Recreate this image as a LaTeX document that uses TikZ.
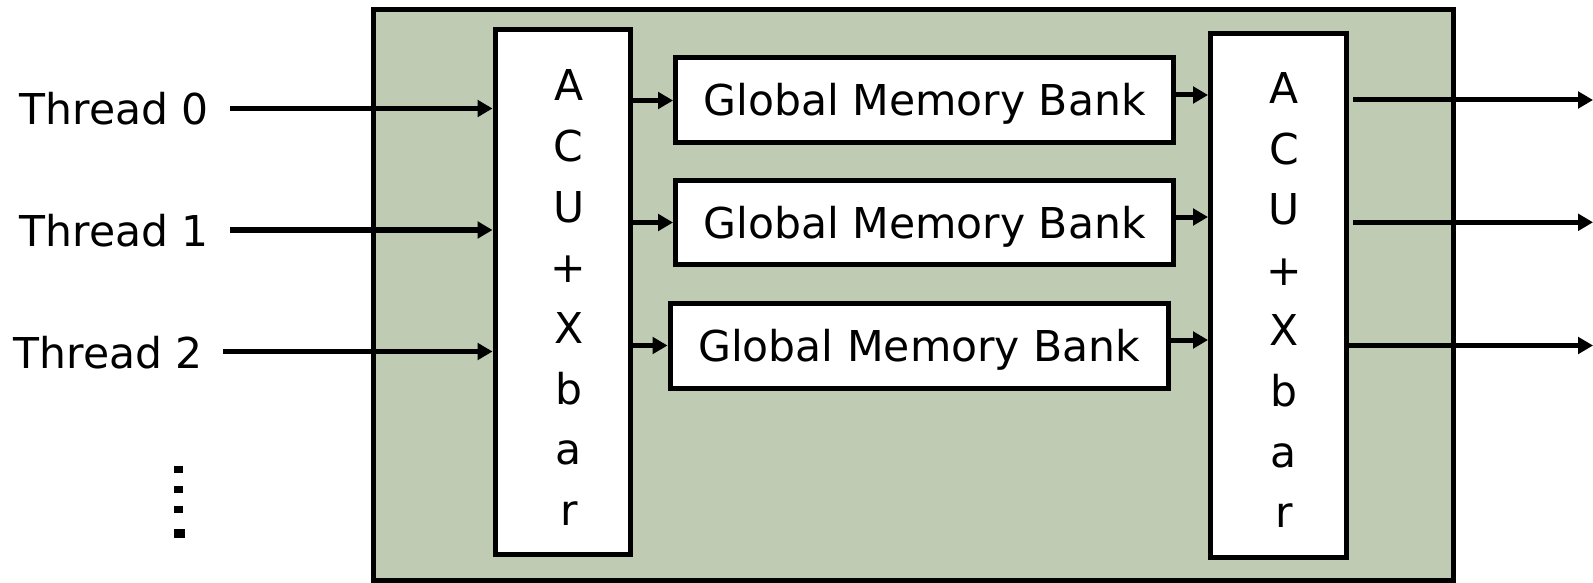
\documentclass[tikz,border=0pt]{standalone}
\usepackage{fontspec}
\setmainfont{DejaVu Sans}
\usetikzlibrary{arrows.meta}
\definecolor{bggreen}{RGB}{191,203,179}
\begin{document}
\begin{tikzpicture}[x=1pt,y=-1pt,
  txt/.style={font=\fontsize{42.5}{51}\selectfont,inner sep=0pt},
  box/.style={draw=black,line width=5pt,fill=white,inner sep=0pt},
  gmb/.style={box,minimum width=498pt,minimum height=85pt,txt,text height=31pt,text depth=0pt},
  acu/.style={box,minimum width=136pt,minimum height=524pt},
  arr/.style={draw=black,line width=5pt,-{Triangle[length=15pt,width=16.5pt]}},
  tarr/.style={arr,line width=5.5pt},
]
\useasboundingbox (0,0) rectangle (1593,583);
\draw[line width=5pt,fill=bggreen] (373.5,10) rectangle (1453.5,580.5);

% ACU + Xbar boxes
\node[acu,minimum width=135.5pt,minimum height=524.5pt] (acuL) at (562.75,292.25) {};
\node[acu,minimum width=136pt,minimum height=523.5pt] (acuR) at (1278.5,295.75) {};
\foreach \c [count=\i from 0] in {A,C,U,+,X,b,a,r}{
  \node[txt,anchor=base] (L\i) at (568.75,101+60.6*\i) {\c};
  \node[txt,anchor=base] (R\i) at (1284,103.5+60.6*\i) {\c};
}

% memory banks
\node[gmb] (g1) at (924.5,100.5) {Global Memory Bank};
\node[gmb,minimum height=84pt] (g2) at (924.5,222.5) {Global Memory Bank};
\node[gmb,minimum width=498.5pt] (g3) at (919.25,345.5) {Global Memory Bank};

% threads
\node[txt,anchor=base east] (t0) at (209,125) {Thread 0};
\node[txt,anchor=base east] (t1) at (209,246.5) {Thread 1};
\node[txt,anchor=base east] (t2) at (203,368) {Thread 2};
\coordinate (s0) at (230,108.5);
\coordinate (s1) at (230,230);
\coordinate (s2) at (223,351.5);
\foreach \i in {0,1,2}{
  \draw[tarr] (s\i) -- (s\i -| acuL.west);
}

% ACU -> banks
\foreach \i in {1,2,3}{
  \draw[arr] (g\i.west -| acuL.east) -- (g\i.west);
  \draw[arr] ([yshift=5.5pt]g\i.east) -- ([yshift=5.5pt]g\i.east -| acuR.west);
}

% outputs
\coordinate (o1) at (1593,100);
\coordinate (o2) at (1593,222.3);
\coordinate (o3) at (1593,345.5);
\draw[arr] ([xshift=4pt]o1 -| acuR.east) -- (o1);
\draw[arr] ([xshift=4pt]o2 -| acuR.east) -- (o2);
\draw[arr] (o3 -| acuR.east) -- (o3);

% vertical dots
\fill (174.3,465.7) rectangle (182.7,472.7);
\fill (174.3,486) rectangle (182.7,493.3);
\fill (174.3,506.3) rectangle (182.7,513.3);
\fill (174.3,528.7) rectangle (185,538);
\end{tikzpicture}
\end{document}
